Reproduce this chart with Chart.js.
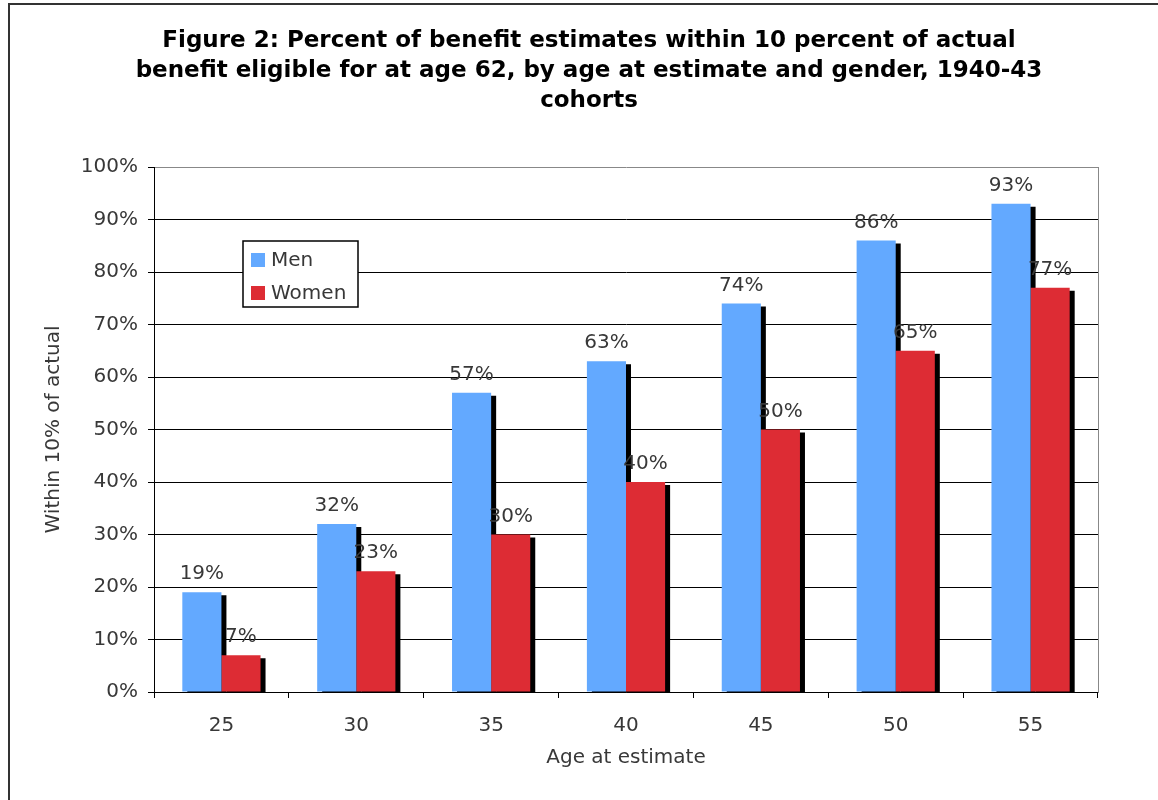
<!DOCTYPE html>
<html>
<head>
<meta charset="utf-8">
<script src="https://cdn.jsdelivr.net/npm/chart.js@4"></script>
<style>
  html, body { margin: 0; padding: 0; background: #fff; overflow: hidden; }
  #frame { position: absolute; left: 8px; top: 3px; width: 1300px; height: 900px;
           border-left: 2px solid #333; border-top: 2px solid #333; }
  #wrap { position: absolute; left: 0; top: 0; width: 1158px; height: 800px; }
</style>
</head>
<body>
<div id="frame"></div>
<div id="wrap"><canvas id="chart" width="1158" height="800"></canvas></div>
<script>
const ages = ['25', '30', '35', '40', '45', '50', '55'];
const men = [19, 32, 57, 63, 74, 86, 93];
const women = [7, 23, 30, 40, 50, 65, 77];
const titleLines = [
  'Figure 2: Percent of benefit estimates within 10 percent of actual',
  'benefit eligible for at age 62, by age at estimate and gender, 1940-43',
  'cohorts'
];

const FONT = 'DejaVu Sans';
const TEXT = '#383838';

// black drop shadow behind every bar
const shadowPlugin = {
  id: 'shadow',
  beforeDatasetsDraw(chart) {
    const { ctx, chartArea } = chart;
    ctx.save();
    ctx.beginPath();
    ctx.rect(chartArea.left, chartArea.top, chartArea.right - chartArea.left, chartArea.bottom - chartArea.top);
    ctx.clip();
    ctx.fillStyle = '#000';
    chart.data.datasets.forEach((ds, i) => {
      chart.getDatasetMeta(i).data.forEach(bar => {
        const { x, y, base, width } = bar.getProps(['x', 'y', 'base', 'width'], true);
        ctx.fillRect(x - width / 2 + 5, y + 3, width, base - y);
      });
    });
    ctx.restore();
  }
};

// value labels above bars and the boxed legend inside the plot
const labelPlugin = {
  id: 'labels',
  afterDatasetsDraw(chart) {
    const { ctx, chartArea } = chart;
    ctx.save();
    ctx.font = '20px "' + FONT + '"';
    ctx.fillStyle = TEXT;
    ctx.textAlign = 'center';
    ctx.textBaseline = 'alphabetic';
    chart.data.datasets.forEach((ds, i) => {
      chart.getDatasetMeta(i).data.forEach((bar, j) => {
        ctx.fillText(ds.data[j] + '%', bar.x, bar.y - 13);
      });
    });

    const lx = chartArea.left + 89, ly = chartArea.top + 74;
    ctx.fillStyle = '#fff';
    ctx.fillRect(lx, ly, 115, 66);
    ctx.strokeStyle = '#000';
    ctx.lineWidth = 1.5;
    ctx.strokeRect(lx, ly, 115, 66);
    ctx.textAlign = 'left';
    ctx.textBaseline = 'middle';
    chart.data.datasets.forEach((ds, i) => {
      const cy = ly + 19 + i * 33;
      ctx.fillStyle = ds.backgroundColor;
      ctx.fillRect(lx + 8, cy - 7, 14, 14);
      ctx.fillStyle = TEXT;
      ctx.fillText(ds.label, lx + 28, cy + 1);
    });
    ctx.restore();
  }
};

new Chart(document.getElementById('chart'), {
  type: 'bar',
  data: {
    labels: ages,
    datasets: [
      { label: 'Men', data: men, backgroundColor: '#63A9FF' },
      { label: 'Women', data: women, backgroundColor: '#DD2C34' }
    ]
  },
  options: {
    responsive: false,
    animation: false,
    layout: { padding: { left: 20, right: 0, top: 0, bottom: 0 } },
    datasets: { bar: { categoryPercentage: 0.58, barPercentage: 1.0 } },
    plugins: {
      legend: { display: false },
      tooltip: { enabled: false },
      title: {
        display: true,
        text: titleLines,
        color: '#000',
        font: { family: FONT, size: 23, weight: 'bold', lineHeight: '30px' },
        padding: { top: 26, bottom: 51 }
      }
    },
    scales: {
      x: {
        afterFit: s => { s.height = 108; },
        grid: { drawOnChartArea: false, drawTicks: true, tickLength: 6, color: '#000', tickColor: '#000' },
        border: { color: '#000', width: 1 },
        ticks: { color: TEXT, padding: 16, font: { family: FONT, size: 20 } },
        title: { display: true, text: 'Age at estimate', color: TEXT,
                 font: { family: FONT, size: 20 }, padding: { top: 0, bottom: 30 } }
      },
      y: {
        min: 0, max: 100,
        afterFit: s => { s.width = 134; },
        grid: {
          color: ctx => (ctx.tick && ctx.tick.value === 100 ? '#888' : '#000'),
          tickColor: '#000', tickLength: 6, lineWidth: 1
        },
        border: { color: '#000', width: 1 },
        ticks: { stepSize: 10, color: TEXT, padding: 10, font: { family: FONT, size: 20 },
                 callback: v => v + '%' },
        title: { display: true, text: 'Within 10% of actual', color: TEXT,
                 font: { family: FONT, size: 20 }, padding: { top: 22, bottom: 0 } }
      },
      y2: {
        position: 'right',
        min: 0, max: 100,
        afterFit: s => { s.width = 60; },
        grid: { drawOnChartArea: false, drawTicks: false },
        border: { color: '#888', width: 1 },
        ticks: { display: false }
      }
    }
  },
  plugins: [shadowPlugin, labelPlugin]
});
</script>
</body>
</html>
